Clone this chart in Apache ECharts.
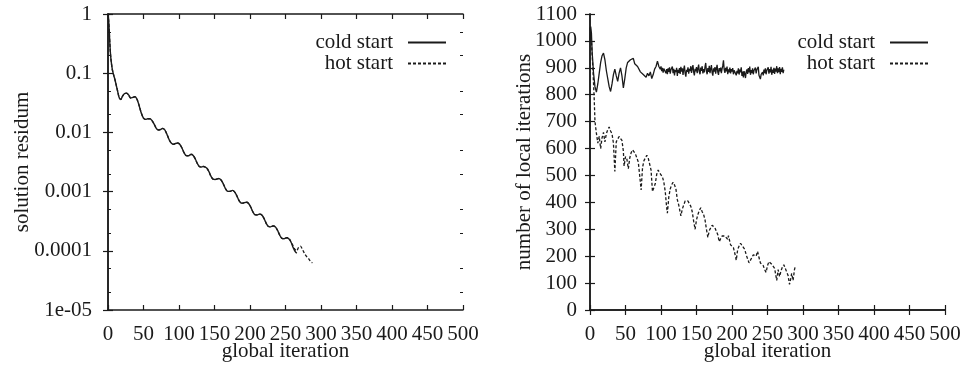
<!DOCTYPE html>
<html>
<head>
<meta charset="utf-8">
<script src="https://cdn.jsdelivr.net/npm/echarts@6/dist/echarts.min.js"></script>
<style>
  html, body { margin: 0; padding: 0; background: #fff; }
  #chart { width: 962px; height: 365px; }
</style>
</head>
<body>
<div id="chart"></div>
<script>
// Shared axis ticks
const iterationTicks = [0, 50, 100, 150, 200, 250, 300, 350, 400, 450, 500];
const residumTickValues = [1e-5, 1e-4, 1e-3, 1e-2, 1e-1, 1];
const residumTickLabels = ['1e-05', '0.0001', '0.001', '0.01', '0.1', '1'];
const residumMinorTicks = [2e-5, 5e-5, 2e-4, 5e-4, 2e-3, 5e-3, 2e-2, 5e-2, 2e-1, 5e-1];
const localIterTicks = [0, 100, 200, 300, 400, 500, 600, 700, 800, 900, 1000, 1100];

// Solution residum: both runs converge identically up to iteration 252
const residSharedIter = [0, 1, 2, 3, 4, 6, 8, 10, 12, 14, 16, 18, 20, 23, 26, 29, 32, 35, 38, 41, 44, 47, 50, 53, 56, 59, 62, 65, 68, 71, 74, 77, 80, 83, 86, 89, 92, 95,
  98, 101, 104, 107, 110, 113, 115, 117, 120, 123, 126, 129, 132, 134, 136, 139, 142, 145, 148, 151, 154,
  156, 159, 162, 165, 168, 171, 173, 175, 178, 181, 184, 187, 190, 192, 195, 198, 201, 204, 207, 210, 212,
  214, 217, 220, 223, 226, 229, 231, 233, 236, 239, 242, 245, 248, 250, 252];
const residShared = [1, 0.76, 0.45, 0.26, 0.18, 0.117, 0.093, 0.076, 0.060, 0.047, 0.038, 0.036, 0.040, 0.045, 0.046, 0.043, 0.038, 0.039, 0.040, 0.036, 0.028, 0.021, 0.0174, 0.0166, 0.0170, 0.0170, 0.0158, 0.0138, 0.0117, 0.0110, 0.0112, 0.0117, 0.0110, 0.0093, 0.0076, 0.0066, 0.0063, 0.0065,
  0.00661, 0.00631, 0.00550, 0.00457, 0.00407, 0.00403, 0.00412, 0.00427, 0.00407, 0.00355, 0.00295, 0.00263, 0.00260, 0.00266, 0.00263, 0.00251, 0.00219, 0.00182, 0.00162, 0.00160, 0.00164,
  0.00166, 0.00158, 0.00138, 0.00115, 0.00102, 0.00101, 0.00102, 0.00105, 0.00100, 0.000871, 0.000724, 0.000646, 0.000638, 0.000653, 0.000661, 0.000631, 0.000550, 0.000457, 0.000407, 0.000403, 0.000412,
  0.000417, 0.000398, 0.000347, 0.000288, 0.000257, 0.000254, 0.000260, 0.000263, 0.000251, 0.000219, 0.000182, 0.000162, 0.000160, 0.000164, 0.000166];
const residColdTailIter = [255, 258, 261, 264, 266];
const residColdTail = [0.000158, 0.000138, 0.000112, 0.0000955, 0.0000912];
const residHotTailIter = [254, 257, 260, 263, 266, 268, 271, 274, 277, 280, 283, 286, 288];
const residHotTail = [0.000166, 0.000148, 0.000126, 0.000107, 0.000100, 0.000112, 0.000120, 0.000105, 0.0000891, 0.0000794, 0.0000724, 0.0000646, 0.0000631];

// Number of local iterations per global iteration, cold start
const localColdIter = [0, 1, 2, 3, 5, 7, 9, 11, 13, 15, 17, 19, 21, 23, 25, 27, 29, 31, 33, 35, 37, 39, 41, 43, 45, 47, 49,
  51, 53, 55, 57, 59, 61, 63, 65, 67, 69, 71, 73, 75, 77, 79, 81, 83, 85, 87, 89, 91, 93, 95, 97,
  99, 100, 101, 102, 103, 104, 105, 106, 107, 108, 109, 110, 111, 112, 113, 114, 115, 116, 117, 118, 119,
  120, 121, 122, 123, 124, 125, 126, 127, 128, 129, 130, 131, 132, 133, 134, 135, 136, 137, 138, 139,
  140, 141, 142, 143, 144, 145, 146, 147, 148, 149, 150, 151, 152, 153, 154, 155, 156, 157, 158, 159,
  160, 161, 162, 163, 164, 165, 166, 167, 168, 169, 170, 171, 172, 173, 174, 175, 176, 177, 178, 179,
  180, 181, 182, 183, 184, 185, 186, 187, 188, 189, 190, 191, 192, 193, 194, 195, 196, 197, 198, 199,
  200, 201, 202, 203, 204, 205, 206, 207, 208, 209, 210, 211, 212, 213, 214, 215, 216, 217, 218, 219,
  220, 221, 222, 223, 224, 225, 226, 227, 228, 229, 230, 231, 232, 233, 234, 235, 236, 237, 238, 239,
  240, 241, 242, 243, 244, 245, 246, 247, 248, 249, 250, 251, 252, 253, 254, 255, 256, 257, 258, 259,
  260, 261, 262, 263, 264, 265, 266, 267, 268, 269, 270, 271, 272, 273];
const localCold = [1000, 1053, 1030, 960, 880, 830, 810, 840, 880, 920, 945, 955, 930, 890, 860, 830, 812, 840, 875, 895, 870, 850, 880, 900, 870, 825, 860,
  900, 920, 915, 930, 925, 935, 915, 920, 905, 900, 885, 890, 875, 880, 865, 880, 870, 885, 860, 875, 895, 905, 925, 905,
  895, 905, 888, 900, 882, 897, 890, 903, 880, 895, 876, 898, 885, 902, 878, 893, 887, 905, 880, 896, 872,
  892, 884, 900, 870, 893, 881, 899, 877, 904, 886, 898, 874, 895, 908, 879, 867, 893, 885, 902, 878,
  896, 888, 906, 881, 899, 910, 884, 872, 896, 887, 903, 880, 897, 912, 885, 876, 901, 889, 906, 879,
  895, 883, 904, 918, 887, 876, 899, 885, 907, 880, 896, 910, 882, 871, 898, 886, 903, 878, 897, 911,
  884, 874, 899, 887, 901, 880, 896, 908, 928, 893, 881, 900, 887, 905, 876, 894, 883, 901, 879, 895,
  886, 899, 876, 891, 884, 897, 872, 889, 880, 898, 875, 893, 883, 902, 870, 886, 864, 888, 878, 862,
  885, 894, 877, 899, 883, 905, 874, 892, 880, 898, 876, 890, 884, 901, 879, 893, 887, 904, 872, 866,
  858, 875, 868, 884, 872, 893, 880, 898, 876, 890, 885, 902, 878, 895, 883, 904, 874, 893, 881, 900,
  877, 897, 886, 906, 880, 898, 884, 903, 876, 896, 885, 902, 880, 893];

// Number of local iterations per global iteration, hot start
const localHotIter = [0, 2, 4, 6, 7, 9, 11, 13, 15, 17, 19, 21, 23, 25, 27, 29, 31, 33, 35, 37, 39, 41, 43, 45, 47, 48,
  50, 52, 54, 56, 58, 60, 62, 64, 66, 68, 70, 72, 74, 76, 78, 80, 82, 84, 86, 88, 90, 92, 94, 96, 98,
  100, 102, 104, 106, 108, 109, 111, 113, 115, 117, 119, 121, 123, 125, 128, 130, 132, 134, 136, 138, 140, 142, 144, 146, 148,
  150, 152, 154, 156, 158, 160, 162, 164, 166, 168, 170, 172, 174, 176, 178, 180, 182, 184, 186, 188, 190, 192, 194, 195, 198,
  200, 202, 204, 206, 208, 210, 212, 214, 216, 218, 220, 222, 224, 226, 228, 230, 232, 234, 236, 238, 240, 242, 244, 246, 248,
  250, 252, 254, 256, 258, 260, 262, 263, 265, 267, 269, 271, 273, 275, 277, 279, 281, 283, 284, 286, 288, 289];
const localHot = [1050, 1000, 900, 780, 700, 657, 620, 645, 600, 640, 660, 625, 655, 670, 680, 665, 655, 620, 515, 625, 635, 645, 650, 630, 590, 535,
  570, 560, 525, 565, 585, 595, 600, 580, 565, 550, 500, 446, 530, 555, 565, 575, 565, 560, 520, 440, 445, 470, 505, 520, 510,
  510, 495, 475, 440, 380, 360, 420, 450, 465, 475, 465, 450, 410, 390, 350, 375, 390, 405, 410, 405, 400, 385, 365, 330, 300,
  335, 355, 370, 380, 365, 355, 335, 300, 270, 295, 305, 315, 318, 305, 292, 280, 254, 265, 275, 270, 275, 272, 262, 276, 242,
  240, 232, 210, 185, 225, 238, 248, 240, 238, 225, 205, 190, 175, 172, 195, 205, 210, 200, 218, 195, 175, 170, 165, 150, 140,
  165, 180, 175, 170, 165, 155, 125, 110, 150, 124, 145, 160, 168, 155, 150, 128, 95, 120, 136, 110, 150, 161];

const pairs = (xs, ys) => xs.map((x, i) => [x, ys[i]]);

const FONT = 'Liberation Serif, Times New Roman, serif';
const INK = '#1a1a1a';
const frameLine = { show: true, lineStyle: { color: INK, width: 1.5 } };
const tickStyle = { inside: true, length: 5, lineStyle: { color: INK, width: 1.2 } };
const labelStyle = { color: INK, fontFamily: FONT, fontSize: 21 };
const nameStyle = { color: INK, fontFamily: FONT, fontSize: 21 };

function xAxes(gridIndex) {
  return [
    {
      type: 'value', gridIndex, position: 'bottom', min: 0, max: 500, interval: 50,
      axisLine: frameLine, splitLine: { show: false }, axisTick: tickStyle,
      axisLabel: { ...labelStyle, margin: 14, formatter: v => iterationTicks.includes(v) ? String(v) : '' },
      name: 'global iteration', nameLocation: 'middle', nameGap: 31, nameMoveOverlap: false, nameTextStyle: nameStyle
    },
    {
      type: 'value', gridIndex, position: 'top', min: 0, max: 500, interval: 50,
      axisLine: frameLine, splitLine: { show: false }, axisTick: tickStyle,
      axisLabel: { show: false }
    }
  ];
}

const residLabel = v => {
  const i = residumTickValues.findIndex(t => Math.abs(Math.log10(t) - Math.log10(v)) < 1e-6);
  return i >= 0 ? residumTickLabels[i] : '';
};

function legendAt(right) {
  return {
    right, top: 27, orient: 'vertical', align: 'right', itemGap: 0,
    itemWidth: 38, itemHeight: 10,
    itemStyle: { color: 'rgba(0,0,0,0)', borderWidth: 0, opacity: 0 },
    textStyle: { color: INK, fontFamily: FONT, fontSize: 21, lineHeight: 20, padding: [0, 10, 0, 0] },
    data: ['cold start', 'hot start'], selectedMode: false
  };
}

const option = {
  animation: false,
  backgroundColor: '#fff',
  grid: [
    { left: 108, top: 14, width: 355, height: 296, outerBoundsMode: 'none', containLabel: false },
    { left: 590, top: 14, width: 355, height: 296, outerBoundsMode: 'none', containLabel: false }
  ],
  xAxis: [...xAxes(0), ...xAxes(1)],
  yAxis: [
    // left panel, logarithmic residum
    {
      type: 'log', logBase: 10, gridIndex: 0, position: 'left', min: 1e-5, max: 1,
      axisLine: frameLine, splitLine: { show: false }, axisTick: tickStyle,
      axisLabel: { ...labelStyle, margin: 16, formatter: residLabel },
      name: 'solution residum', nameLocation: 'middle', nameGap: 75, nameMoveOverlap: false, nameTextStyle: nameStyle
    },
    {
      type: 'log', logBase: 10, gridIndex: 0, position: 'right', min: 1e-5, max: 1,
      axisLine: frameLine, splitLine: { show: false }, axisTick: tickStyle,
      axisLabel: { show: false }
    },
    {
      type: 'log', logBase: 10, gridIndex: 0, position: 'left', offset: 0, min: 1e-5, max: 1,
      axisLine: { show: false }, splitLine: { show: false },
      axisTick: { inside: true, length: 3, customValues: residumMinorTicks, lineStyle: { color: INK, width: 1 } },
      axisLabel: { show: false }
    },
    {
      type: 'log', logBase: 10, gridIndex: 0, position: 'right', offset: 0, min: 1e-5, max: 1,
      axisLine: { show: false }, splitLine: { show: false },
      axisTick: { inside: true, length: 3, customValues: residumMinorTicks, lineStyle: { color: INK, width: 1 } },
      axisLabel: { show: false }
    },
    // right panel, local iteration count
    {
      type: 'value', gridIndex: 1, position: 'left', min: 0, max: 1100, interval: 100,
      axisLine: frameLine, splitLine: { show: false }, axisTick: tickStyle,
      axisLabel: { ...labelStyle, margin: 13, formatter: v => localIterTicks.includes(v) ? String(v) : '' },
      name: 'number of local iterations', nameLocation: 'middle', nameGap: 55, nameMoveOverlap: false, nameTextStyle: nameStyle
    },
    {
      type: 'value', gridIndex: 1, position: 'right', min: 0, max: 1100, interval: 100,
      axisLine: frameLine, splitLine: { show: false }, axisTick: tickStyle,
      axisLabel: { show: false }
    }
  ],
  legend: [legendAt(510), legendAt(28)],
  series: [
    {
      name: 'hot start', type: 'line', xAxisIndex: 0, yAxisIndex: 0, symbol: 'none', smooth: 0.3,
      itemStyle: { color: INK },
      lineStyle: { color: INK, width: 1.3, type: [3, 2] },
      data: pairs(residSharedIter.concat(residHotTailIter), residShared.concat(residHotTail))
    },
    {
      name: 'cold start', type: 'line', xAxisIndex: 0, yAxisIndex: 0, symbol: 'none', smooth: 0.3,
      itemStyle: { color: INK },
      lineStyle: { color: INK, width: 1.4 },
      data: pairs(residSharedIter.concat(residColdTailIter), residShared.concat(residColdTail))
    },
    {
      name: 'cold start', type: 'line', xAxisIndex: 2, yAxisIndex: 4, symbol: 'none',
      itemStyle: { color: INK },
      lineStyle: { color: INK, width: 1.3 },
      data: pairs(localColdIter, localCold)
    },
    {
      name: 'hot start', type: 'line', xAxisIndex: 2, yAxisIndex: 4, symbol: 'none',
      itemStyle: { color: INK },
      lineStyle: { color: INK, width: 1.3, type: [3, 2] },
      data: pairs(localHotIter, localHot)
    }
  ]
};

const chart = echarts.init(document.getElementById('chart'), null, { renderer: 'canvas' });
chart.setOption(option);
</script>
</body>
</html>
